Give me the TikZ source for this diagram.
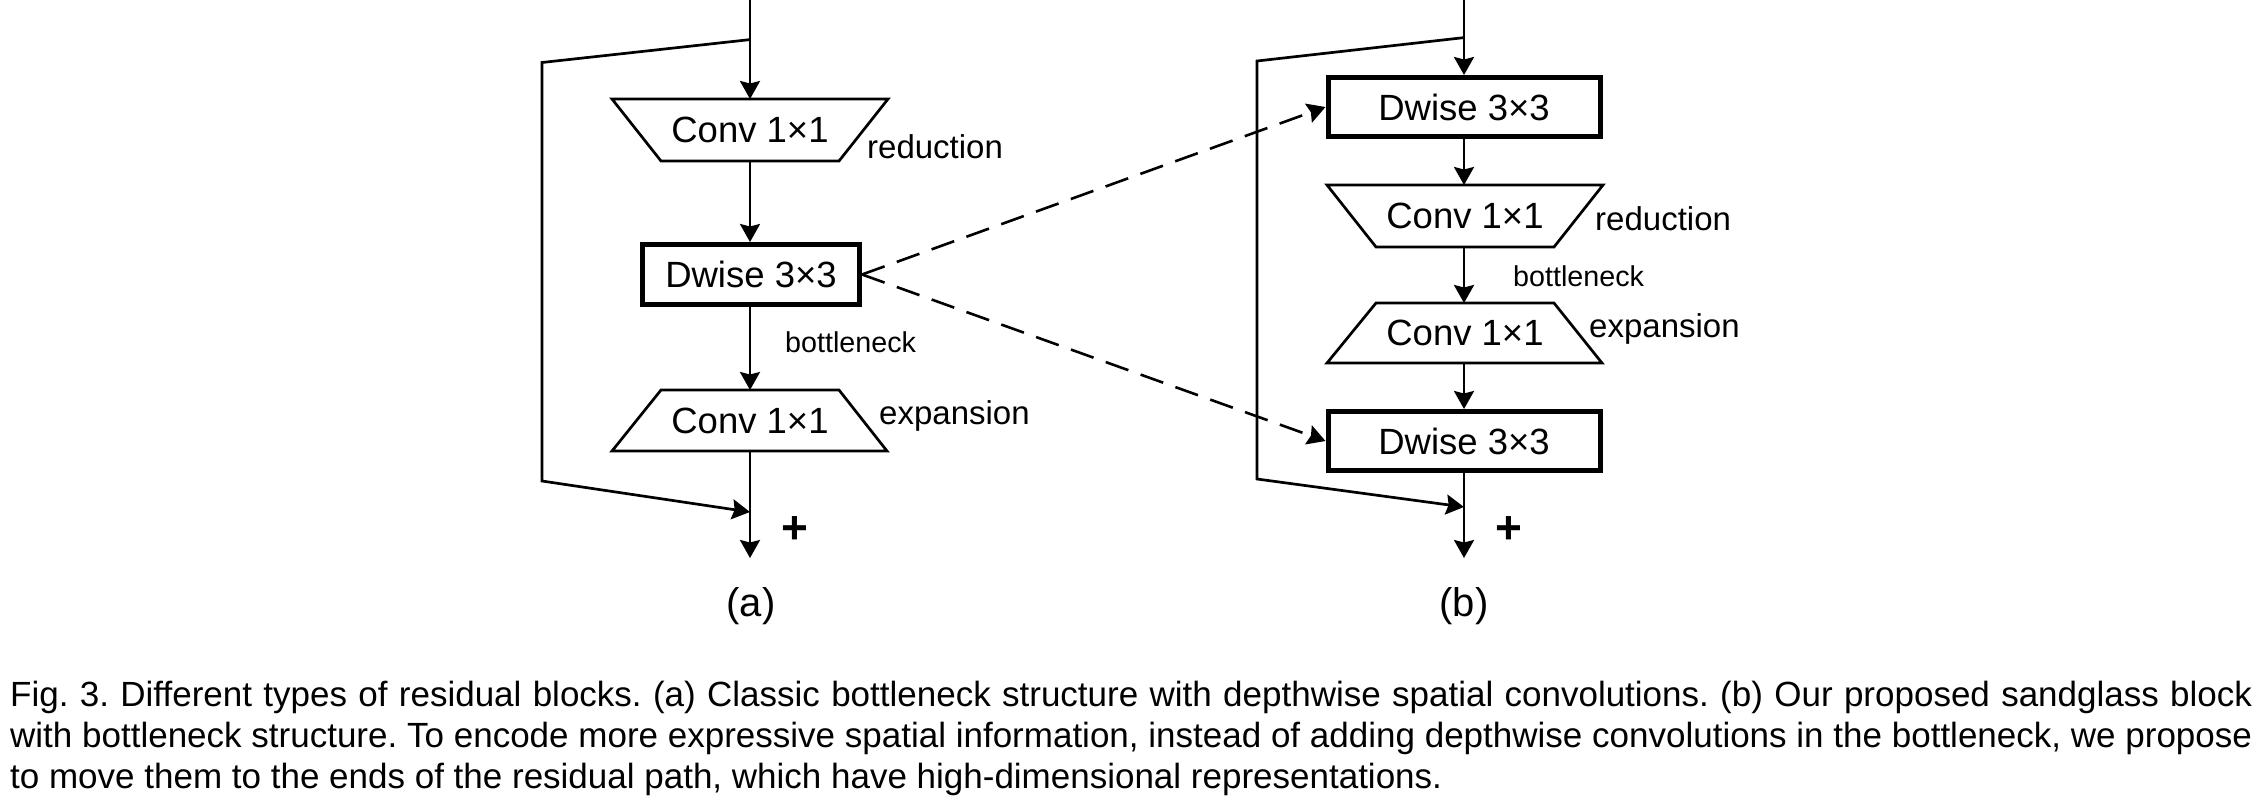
\documentclass[tikz,border=0pt]{standalone}
\usepackage{fontspec}
\setmainfont{Liberation Sans}
\usetikzlibrary{arrows.meta,calc}
\newcommand\fconv{\fontsize{36.5}{40}\selectfont}
\newcommand\flbl{\fontsize{33}{36}\selectfont}
\newcommand\fbot{\fontsize{28.7}{32}\selectfont}
\newcommand\fsub{\fontsize{40}{44}\selectfont}
\newcommand\fplus{\fontsize{46}{50}\selectfont\bfseries}
\newcommand\fcap{\fontsize{35}{40}\selectfont\frenchspacing}
\tikzset{
  mainln/.style={line width=2.7pt, black},
  arr/.style={-{Stealth[length=18pt,width=20pt,inset=2.5pt]}},
  dasharr/.style={line width=2.6pt, dash pattern=on 24pt off 13pt, -{Stealth[length=18pt,width=20pt,inset=2.5pt]}},
  dwbox/.style={draw, line width=5pt, minimum width=217pt, minimum height=60pt, inner sep=0pt, font=\fconv},
  trapbody/.style={minimum width=178pt, minimum height=62pt, inner sep=0pt, outer sep=0pt, font=\fconv},
  trapline/.style={line width=2.7pt},
  lbl/.style={anchor=base west, inner sep=0pt, font=\flbl},
  botlbl/.style={anchor=base west, inner sep=0pt, font=\fbot},
  sublbl/.style={inner sep=0pt, font=\fsub},
  pluslbl/.style={inner sep=0pt, font=\fplus},
  capline/.style={anchor=base west, inner sep=0pt, font=\fcap}
}
\begin{document}
\begin{tikzpicture}[x=1pt,y=-1pt]
\useasboundingbox (0,0) rectangle (2254,804);

% ---------- (a) ----------
\node[trapbody] (cra) at (750,130) {Conv 1×1};
\draw[trapline] (cra.south west) -- (cra.south east) -- ([xshift=49pt]cra.north east) -- ([xshift=-49pt]cra.north west) -- cycle;
\node[dwbox] (dwa) at (751,274.5) {Dwise 3×3};
\node[trapbody, minimum height=61pt] (cea) at (750,420.5) {Conv 1×1};
\draw[trapline] (cea.north west) -- (cea.north east) -- ([xshift=48pt]cea.south east) -- ([xshift=-49pt]cea.south west) -- cycle;

\node[lbl] (reda) at (867,158) {reduction};
\node[botlbl] (bota) at (785,352) {bottleneck};
\node[lbl] (expa) at (879,424) {expansion};
\node[pluslbl] (plusa) at (795,530) {+};
\node[sublbl] (suba) at (751,606) {(a)};

\coordinate (ina) at (750,0);
\coordinate (spa) at (750,39.6);
\coordinate (la1) at (542,62.5);
\coordinate (la2) at (542,481);
\coordinate (joa) at (750,512);
\coordinate (outa) at (750,558);

\draw[mainln,arr] (ina) -- (cra.north);
\draw[mainln,arr] (spa) -- (la1) -- (la2) -- (joa);
\draw[mainln,arr] (cra.south) -- (dwa.north -| cra.south);
\draw[mainln,arr] (dwa.south -| cra.south) -- (cea.north);
\draw[mainln,arr] (cea.south) -- (outa);

% ---------- (b) ----------
\node[dwbox, minimum width=272pt, minimum height=59pt] (dwb1) at (1464,107) {Dwise 3×3};
\node[trapbody] (crb) at (1465,216) {Conv 1×1};
\draw[trapline] (crb.south west) -- (crb.south east) -- ([xshift=49pt]crb.north east) -- ([xshift=-49pt]crb.north west) -- cycle;
\node[trapbody, minimum height=60pt] (ceb) at (1465,333) {Conv 1×1};
\draw[trapline] (ceb.north west) -- (ceb.north east) -- ([xshift=48pt]ceb.south east) -- ([xshift=-49pt]ceb.south west) -- cycle;
\node[dwbox, minimum width=272pt, minimum height=59pt] (dwb2) at (1464,441) {Dwise 3×3};

\node[lbl] (redb) at (1595,230) {reduction};
\node[botlbl] (botb) at (1513,286) {bottleneck};
\node[lbl] (expb) at (1589,337) {expansion};
\node[pluslbl] (plusb) at (1509,530) {+};
\node[sublbl] (subb) at (1464,606) {(b)};

\coordinate (inb) at (1464,0);
\coordinate (spb) at (1464,37.6);
\coordinate (lb1) at (1257,61);
\coordinate (lb2) at (1257,479);
\coordinate (job) at (1464,507);
\coordinate (outb) at (1464,558);

\draw[mainln,arr] (inb) -- (dwb1.north);
\draw[mainln,arr] (spb) -- (lb1) -- (lb2) -- (job);
\draw[mainln,arr] (dwb1.south) -- (crb.north -| dwb1.south);
\draw[mainln,arr] (crb.south -| dwb1.south) -- (ceb.north -| dwb1.south);
\draw[mainln,arr] (ceb.south -| dwb1.south) -- (dwb2.north);
\draw[mainln,arr] (dwb2.south) -- (outb);

% ---------- dashed links ----------
\draw[dasharr] (dwa.east) -- (dwb1.west);
\draw[dasharr] (dwa.east) -- (dwb2.west);

% ---------- caption ----------
\node[capline] (cap1) at (10,706) {\makebox[2242pt][s]{Fig. 3. Different types of residual blocks. (a) Classic bottleneck structure with depthwise spatial convolutions. (b) Our proposed sandglass block}};
\node[capline] (cap2) at (10,747) {\makebox[2242pt][s]{with bottleneck structure. To encode more expressive spatial information, instead of adding depthwise convolutions in the bottleneck, we propose}};
\node[capline] (cap3) at (10,788) {to move them to the ends of the residual path, which have high-dimensional representations.};
\end{tikzpicture}
\end{document}
